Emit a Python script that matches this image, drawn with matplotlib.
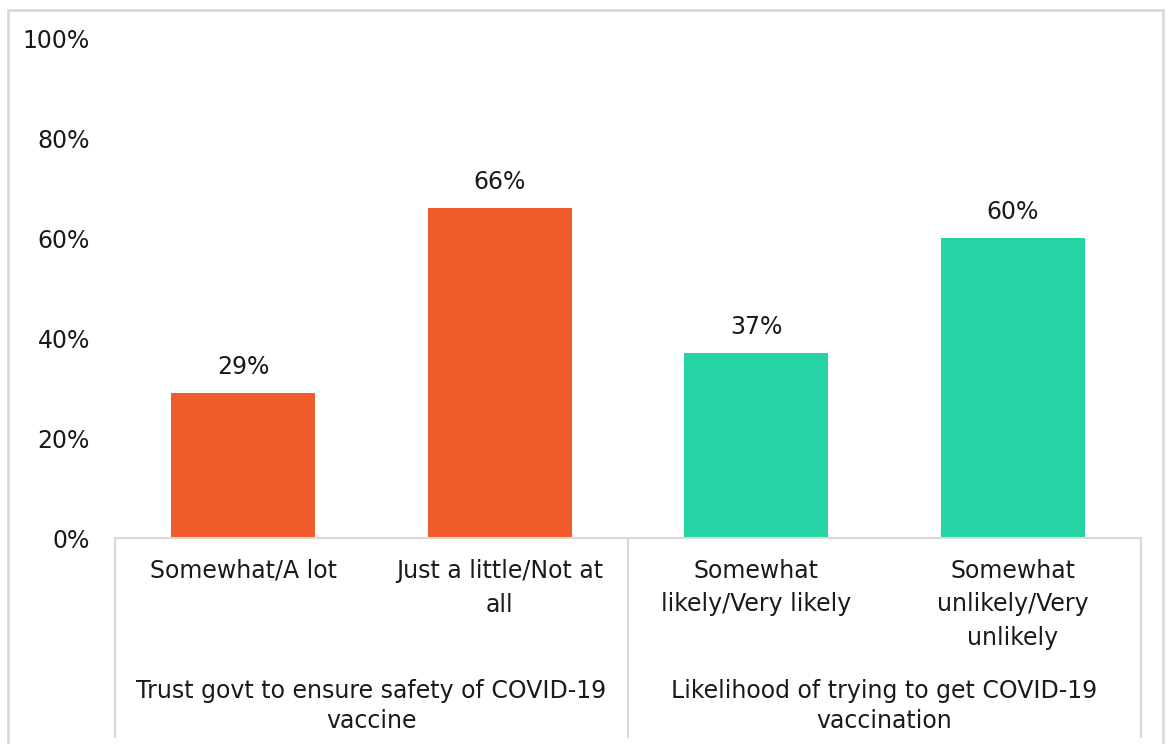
import matplotlib
matplotlib.use("Agg")
import matplotlib.pyplot as plt
from matplotlib.patches import Rectangle

# data
categories = ["Somewhat/A lot", "Just a little/Not at\nall",
              "Somewhat\nlikely/Very likely", "Somewhat\nunlikely/Very\nunlikely"]
values = [29, 66, 37, 60]
groups = ["Trust govt to ensure safety of COVID-19\nvaccine",
          "Likelihood of trying to get COVID-19\nvaccination"]
group_sizes = [2, 2]
colors = ["#F15A2B", "#F15A2B", "#26D3A5", "#26D3A5"]
yticks = [0, 20, 40, 60, 80, 100]

plt.rcParams['font.family'] = ['DejaVu Sans']
W, H = 1166, 744
FS = 17
TXT = "#1a1a1a"
fig = plt.figure(figsize=(W / 100, H / 100), dpi=100)

# outer light gray frame
fig.patches.append(Rectangle((8 / W, -0.05), (1163 - 8) / W, (H - 10) / H + 0.05,
                             transform=fig.transFigure, fill=False,
                             edgecolor="#D9D9D9", linewidth=2))

ax = fig.add_axes([115 / W, (H - 538) / H, (1141 - 115) / W, 500 / H])
x = list(range(len(values)))
ax.bar(x, values, width=0.56, color=colors)
ax.set_xlim(-0.5, len(values) - 0.5)
ax.set_ylim(0, 100)
ax.set_yticks(yticks)
ax.set_yticklabels([f"{t}%" for t in yticks], fontsize=FS, color=TXT)
ax.tick_params(axis='y', length=0, pad=18)
ax.tick_params(axis='x', length=0, labelbottom=False)
for s in ["top", "right", "left"]:
    ax.spines[s].set_visible(False)
ax.spines["bottom"].set_color("#D9D9D9")
ax.spines["bottom"].set_linewidth(1.5)

for xi, v in zip(x, values):
    ax.annotate(f"{v}%", (xi, v), xytext=(0, 10), textcoords="offset points",
                ha="center", va="bottom", fontsize=FS, color=TXT)

tr = ax.get_xaxis_transform()
for xi, lab in zip(x, categories):
    ax.text(xi, -21 / 500, lab, transform=tr, ha="center", va="top",
            fontsize=FS, linespacing=1.5, color=TXT)

# group labels and separators
start = 0
bounds = [-0.5]
for g, n in zip(groups, group_sizes):
    center = start + (n - 1) / 2
    ax.text(center, -141 / 500, g, transform=tr, ha="center", va="top",
            fontsize=FS, linespacing=1.3, color=TXT)
    start += n
    bounds.append(start - 0.5)
for b in bounds:
    ax.plot([b, b], [0, -199 / 500], transform=tr, color="#D9D9D9",
            linewidth=1.5, clip_on=False)

fig.savefig("out.png", dpi=100, facecolor="white")
